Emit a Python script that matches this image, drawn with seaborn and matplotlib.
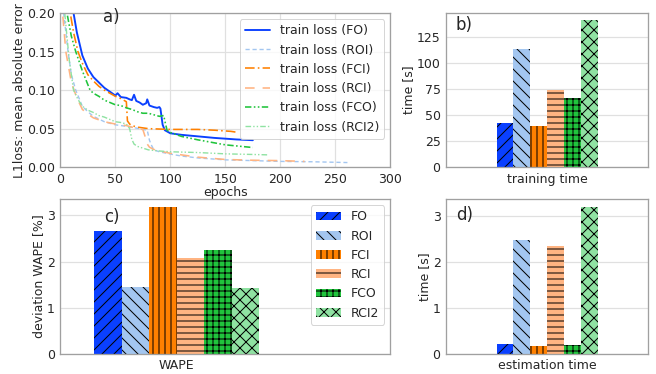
import numpy as np
import pandas as pd
import seaborn as sns
import matplotlib.pyplot as plt

models = ['FO', 'ROI', 'FCI', 'RCI', 'FCO', 'RCI2']
colors = ['#0a40ff', '#a3c6f0', '#ff8000', '#ffb482', '#20c43c', '#8fe2a2']
hatches = ['//', '\\\\', '||', '--', '++', 'xx']

# loss curves
fo_ep = [1, 5, 10, 12, 15, 20, 25, 30, 35, 40, 45, 50, 52, 55, 60, 63, 65, 67, 69, 72, 75, 78, 79, 81, 85, 88, 90, 91, 93, 95, 100, 110, 125, 140, 150, 160, 175]
fo_loss = [0.40, 0.30, 0.225, 0.20, 0.175, 0.145, 0.128, 0.117, 0.110, 0.103, 0.098, 0.093, 0.096, 0.091, 0.090, 0.088, 0.087, 0.094, 0.086, 0.084, 0.081, 0.083, 0.088, 0.080, 0.078, 0.077, 0.078, 0.076, 0.055, 0.048, 0.044, 0.042, 0.040, 0.038, 0.037, 0.036, 0.035]

roi_ep = [1, 3, 7, 10, 14, 20, 25, 30, 40, 50, 60, 70, 75, 79, 81, 83, 85, 90, 100, 110, 125, 150, 175, 200, 230, 261]
roi_loss = [0.28, 0.20, 0.15, 0.12, 0.10, 0.079, 0.072, 0.066, 0.059, 0.055, 0.053, 0.0505, 0.049, 0.048, 0.035, 0.028, 0.0225, 0.020, 0.017, 0.0145, 0.012, 0.0095, 0.0085, 0.0075, 0.007, 0.006]

fci_ep = [1, 5, 9, 12, 16, 20, 25, 30, 35, 40, 45, 50, 55, 60, 61, 63, 65, 70, 80, 90, 100, 110, 125, 140, 150, 155, 162]
fci_loss = [0.35, 0.25, 0.20, 0.175, 0.15, 0.135, 0.12, 0.112, 0.105, 0.100, 0.096, 0.092, 0.089, 0.085, 0.060, 0.056, 0.054, 0.052, 0.050, 0.0495, 0.049, 0.049, 0.049, 0.048, 0.047, 0.0465, 0.045]

rci_ep = [1, 2, 5, 10, 15, 20, 25, 30, 40, 50, 60, 70, 75, 77, 79, 81, 85, 90, 100, 110, 125, 150, 175, 200, 222]
rci_loss = [0.25, 0.20, 0.15, 0.11, 0.09, 0.075, 0.069, 0.064, 0.059, 0.056, 0.054, 0.050, 0.049, 0.040, 0.030, 0.026, 0.023, 0.021, 0.018, 0.016, 0.013, 0.010, 0.009, 0.0085, 0.0075]

fco_ep = [1, 3, 6, 10, 14, 20, 27, 30, 35, 40, 45, 50, 55, 60, 65, 70, 75, 80, 85, 90, 94, 95, 97, 100, 110, 125, 150, 175]
fco_loss = [0.33, 0.25, 0.20, 0.17, 0.15, 0.125, 0.10, 0.096, 0.092, 0.087, 0.084, 0.081, 0.080, 0.077, 0.075, 0.072, 0.070, 0.070, 0.068, 0.066, 0.067, 0.060, 0.048, 0.045, 0.040, 0.0355, 0.029, 0.0255]

rci2_ep = [1, 4, 8, 12, 16, 20, 25, 30, 35, 40, 45, 50, 55, 60, 63, 65, 67, 70, 80, 90, 100, 125, 150, 175, 188]
rci2_loss = [0.30, 0.20, 0.14, 0.10, 0.088, 0.079, 0.074, 0.071, 0.067, 0.065, 0.062, 0.059, 0.058, 0.056, 0.050, 0.036, 0.030, 0.027, 0.0225, 0.021, 0.020, 0.019, 0.0173, 0.0165, 0.016]

# bar values
training_time = [42.8, 113.8, 39.3, 74.5, 66.8, 141.3]
wape = [2.67, 1.46, 3.19, 2.07, 2.26, 1.43]
estimation_time = [0.21, 2.49, 0.175, 2.34, 0.19, 3.21]

sns.set_style('whitegrid', {'axes.edgecolor': '#a0a0a0', 'grid.color': '#e0e0e0'})
plt.rcParams['font.family'] = ['DejaVu Sans']
# drawn at 72 dpi so that the hatch pattern has the same density as the original
plt.rcParams['font.size'] = 12.5
plt.rcParams['hatch.linewidth'] = 1.0
plt.rcParams['axes.linewidth'] = 1.3
plt.rcParams['grid.linewidth'] = 1.2

fig = plt.figure(figsize=(656 / 72, 374 / 72), dpi=72)
ax_a = fig.add_axes([0.092, 0.553, 0.503, 0.412])
ax_b = fig.add_axes([0.680, 0.553, 0.308, 0.412])
ax_c = fig.add_axes([0.092, 0.0535, 0.503, 0.414])
ax_d = fig.add_axes([0.680, 0.0535, 0.308, 0.414])

# a) loss curves
curves = [(fo_ep, fo_loss), (roi_ep, roi_loss), (fci_ep, fci_loss),
          (rci_ep, rci_loss), (fco_ep, fco_loss), (rci2_ep, rci2_loss)]
styles = ['-', (0, (3, 2)), (0, (6, 2, 1, 2)), (0, (6, 5)),
          (0, (4, 1.5, 1, 1.5, 1, 1.5)), (0, (4, 1.5, 1, 1.5, 1, 1.5))]
widths = [1.9, 1.4, 1.6, 1.6, 1.6, 1.4]
for m, (ep, loss), c, ls, lw in zip(models, curves, colors, styles, widths):
    sns.lineplot(x=ep, y=loss, ax=ax_a, color=c, linestyle=ls, linewidth=lw,
                 label='train loss (%s)' % m)
ax_a.set_xlim(0, 300)
ax_a.set_ylim(0, 0.2)
ax_a.set_yticks([0, 0.05, 0.10, 0.15, 0.20])
ax_a.set_xlabel('epochs', labelpad=0)
ax_a.set_ylabel('L1loss: mean absolute error', labelpad=1)
ax_a.legend(loc='upper right')
ax_a.text(0.155, 0.975, 'a)', transform=ax_a.transAxes, fontsize=16.5, ha='center', va='center')


def bar_panel(ax, cat, values, ylabel, tag, tagpos, legend=False):
    df = pd.DataFrame({'cat': cat, 'model': models, 'value': values})
    sns.barplot(data=df, x='cat', y='value', hue='model', hue_order=models,
                palette=dict(zip(models, colors)), saturation=1, width=0.5, ax=ax,
                edgecolor='black', linewidth=0, legend=False)
    for cont, h in zip(ax.containers, hatches):
        for p in cont.patches:
            p.set_hatch(h)
    ax.set_xlabel('')
    ax.set_ylabel(ylabel, labelpad=2)
    ax.text(tagpos[0], tagpos[1], tag, transform=ax.transAxes, fontsize=16.5, ha='center', va='center')
    if legend:
        ax.legend([cont.patches[0] for cont in ax.containers], models, loc='upper right')


bar_panel(ax_b, 'training time', training_time, 'time [s]', 'b)', (0.09, 0.92))
ax_b.set_xlim(-0.5, 0.5)
ax_b.set_yticks([0, 25, 50, 75, 100, 125])

bar_panel(ax_c, 'WAPE', wape, 'deviation WAPE [%]', 'c)', (0.155, 0.886), legend=True)
ax_c.set_xlim(-0.353, 0.647)
ax_c.set_yticks([0, 1, 2, 3])

bar_panel(ax_d, 'estimation time', estimation_time, 'time [s]', 'd)', (0.09, 0.897))
ax_d.set_xlim(-0.5, 0.5)
ax_d.set_yticks([0, 1, 2, 3])

for ax in [ax_a, ax_b, ax_c, ax_d]:
    ax.tick_params(pad=2)

fig.savefig('out.png', dpi=72)
